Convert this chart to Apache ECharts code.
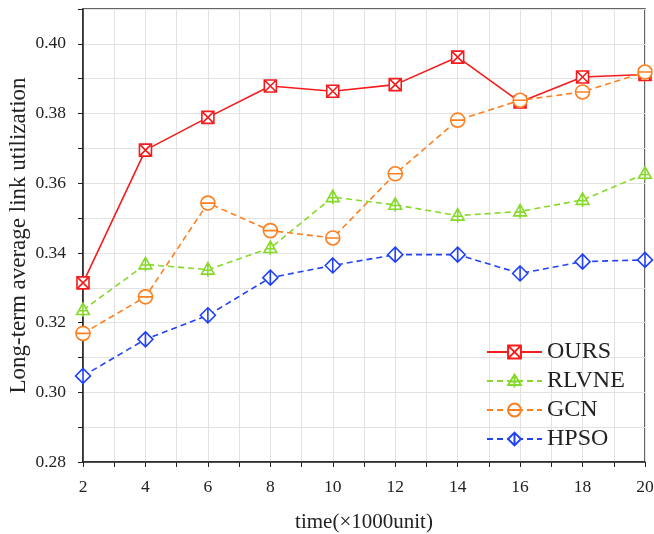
<!DOCTYPE html>
<html>
<head>
<meta charset="utf-8">
<script src="https://cdn.jsdelivr.net/npm/echarts@6/dist/echarts.min.js"></script>
<style>
  html, body { margin: 0; padding: 0; background: #fff; }
  #chart { width: 654px; height: 534px; }
</style>
</head>
<body>
<div id="chart"></div>
<script>
// 資料:時間(×1000unit)與四種方法的長期平均鏈路利用率
const times = [2, 4, 6, 8, 10, 12, 14, 16, 18, 20];
const ours  = [0.3314, 0.3695, 0.3789, 0.3879, 0.3864, 0.3883, 0.3962, 0.3833, 0.3905, 0.3912];
const rlvne = [0.3236, 0.3367, 0.3352, 0.3414, 0.3560, 0.3538, 0.3507, 0.3519, 0.3552, 0.3627];
const gcn   = [0.3169, 0.3274, 0.3543, 0.3464, 0.3443, 0.3627, 0.3781, 0.3838, 0.3862, 0.3919];
const hpso  = [0.3047, 0.3152, 0.3221, 0.3329, 0.3364, 0.3395, 0.3395, 0.3341, 0.3375, 0.3380];
const yTicks = [0.28, 0.30, 0.32, 0.34, 0.36, 0.38, 0.40];

const FONT = '"Liberation Serif", "Times New Roman", serif';

// Origin 風格的空心符號(含內部十字/斜線)
const SYM = {
  squareX: 'path://M0,0L10,0L10,10L0,10Z M0,0L10,10 M10,0L0,10',
  triPlus: 'path://M5,0L10,9L0,9Z M5,0L5,11 M1.8,6L8.2,6',
  circleBar: 'path://M0,5A5,5 0 1 1 10,5A5,5 0 1 1 0,5Z M0,5L10,5',
  diamondBar: 'path://M5,0L10,5L5,10L0,5Z M5,0L5,10',
};

function mkSeries(name, vals, color, symbol, size, dashed) {
  return {
    name, type: 'line',
    data: times.map((t, i) => [t, vals[i]]),
    symbol, symbolSize: size, symbolKeepAspect: true,
    showAllSymbol: true,
    itemStyle: { color: '#fff', borderColor: color, borderWidth: 1.6 },
    lineStyle: { color, width: 1.6, type: dashed ? [6, 4] : 'solid' },
    emphasis: { disabled: true },
  };
}

const chart = echarts.init(document.getElementById('chart'), null, { renderer: 'canvas' });
chart.setOption({
  animation: false,
  backgroundColor: '#fff',
  grid: {
    left: 83, right: 9, top: 9, bottom: 72, outerBoundsMode: 'none',
    show: true, borderColor: '#333', borderWidth: 1.5,
  },
  legend: {
    orient: 'vertical', left: 481, top: 335, itemGap: 5,
    itemWidth: 55, itemHeight: 16,
    textStyle: { fontFamily: FONT, fontSize: 24, color: '#222' },
    data: ['OURS', 'RLVNE', 'GCN', 'HPSO'],
  },
  xAxis: {
    type: 'value', min: 2, max: 20, interval: 1,
    name: 'time(×1000unit)', nameLocation: 'middle', nameGap: 50, nameMoveOverlap: false,
    nameTextStyle: { fontFamily: FONT, fontSize: 21, color: '#222' },
    axisLine: { lineStyle: { color: '#222', width: 1.5 } },
    axisTick: { length: 5, lineStyle: { color: '#222' } },
    axisLabel: {
      fontFamily: FONT, fontSize: 17.5, color: '#222', margin: 16,
      formatter: (v) => (times.includes(v) ? String(v) : ''),
    },
    splitLine: { show: true, lineStyle: { color: '#e2e2e2' } },
  },
  yAxis: {
    type: 'value', min: 0.28, max: 0.41, interval: 0.01,
    name: 'Long-term average link utilization', nameLocation: 'middle', nameGap: 53, nameMoveOverlap: false,
    nameTextStyle: { fontFamily: FONT, fontSize: 23, color: '#222' },
    axisLine: { show: true, lineStyle: { color: '#222', width: 1.5 } },
    axisTick: { show: true, length: 5, lineStyle: { color: '#222' } },
    axisLabel: {
      fontFamily: FONT, fontSize: 17.5, color: '#222', margin: 17,
      formatter: (v) => {
        const t = yTicks.find((y) => Math.abs(y - v) < 1e-6);
        return t === undefined ? '' : t.toFixed(2);
      },
    },
    splitLine: { show: true, lineStyle: { color: '#e2e2e2' } },
  },
  series: [
    mkSeries('OURS', ours, '#f41c1c', SYM.squareX, 12, false),
    mkSeries('RLVNE', rlvne, '#86d92a', SYM.triPlus, 14, true),
    mkSeries('GCN', gcn, '#ff7f1e', SYM.circleBar, 14, true),
    mkSeries('HPSO', hpso, '#2143f5', SYM.diamondBar, 15, true),
  ],
});
</script>
</body>
</html>
